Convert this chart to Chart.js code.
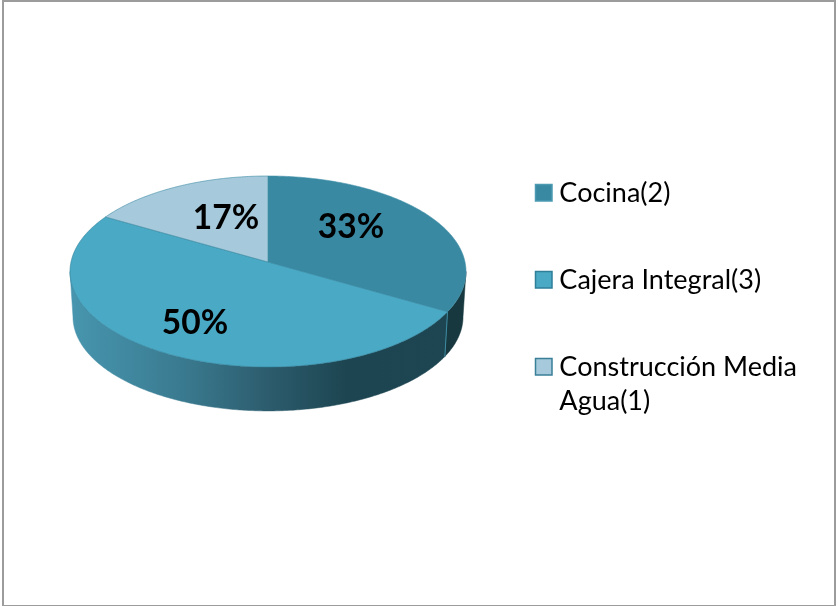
<!DOCTYPE html>
<html><head><meta charset="utf-8">
<style>
html,body{margin:0;padding:0;background:#fff;width:838px;height:606px;overflow:hidden}
#frame{position:absolute;left:2px;top:0;width:830px;height:603px;border:2px solid #9c9c9c;border-bottom-width:1px}
canvas{position:absolute;left:0;top:0}
</style>
<script src="https://cdn.jsdelivr.net/npm/chart.js@4"></script>
</head><body>
<div id="frame"></div>
<canvas id="c" width="838" height="606"></canvas>
<script>
const categories = [["Cocina(2)"], ["Cajera Integral(3)"], ["Construcción Media", "Agua(1)"]];
const values = [2, 3, 1];
const topColors = ["#3a89a2", "#4aa9c5", "#a6cadb"];
const edgeColors = ["#3f8fa8", "#2f7f99", "#3a89a2"];
const swatchEdges = ["#4b9ab2", "#2f7f99", "#3a7f98"];
const labelCenters = [[351, 227], [195, 323], [226, 218]];

// Perspective of the tilted disc
const cx = 268, cy = 262, A = 197, B = 94.55, K = 0.0995;
const DEPTH = 45.5, BOTTOM_SCALE = 0.985;
const VIS_FROM = 95.7 * Math.PI / 180, VIS_TO = 264.3 * Math.PI / 180;

function project(theta, r, bottom) {
  const u = Math.sin(theta) * r, v = -Math.cos(theta) * r, d = 1 - K * v;
  const s = bottom ? BOTTOM_SCALE : 1;
  return [cx + s * A * u / d, cy + (bottom ? DEPTH : 0) + s * B * v / d];
}
function tracePolar(ctx, a, b, bottom, first) {
  const n = Math.max(2, Math.ceil(Math.abs(b - a) / 0.01));
  for (let i = 0; i <= n; i++) {
    const t = a + (b - a) * i / n, p = project(t, 1, bottom);
    if (i === 0 && first) ctx.moveTo(p[0], p[1]); else ctx.lineTo(p[0], p[1]);
  }
}
const disc3d = {
  id: 'disc3d',
  beforeDatasetDraw(chart, args) {
    const ctx = chart.ctx, arcs = chart.getDatasetMeta(args.index).data;
    ctx.save();
    const grad = ctx.createLinearGradient(72, 0, 464, 0);
    grad.addColorStop(0, '#4795ae');
    grad.addColorStop(0.12, '#418aa2');
    grad.addColorStop(0.3, '#39788d');
    grad.addColorStop(0.5, '#2c5c6d');
    grad.addColorStop(0.7, '#1d4551');
    grad.addColorStop(1, '#1e4652');
    const sideFill = [ '#17383f', grad, grad ];
    // side walls
    arcs.forEach((arc, i) => {
      const a = Math.max(arc.startAngle + Math.PI / 2, VIS_FROM);
      const b = Math.min(arc.endAngle + Math.PI / 2, VIS_TO);
      if (b <= a) return;
      ctx.beginPath();
      tracePolar(ctx, a, b, false, true);
      tracePolar(ctx, b, a, true, false);
      ctx.closePath();
      ctx.fillStyle = sideFill[i];
      ctx.fill();
      ctx.strokeStyle = sideFill[i];
      ctx.lineWidth = 0.5;
      ctx.stroke();
      if (arc.startAngle + Math.PI / 2 > VIS_FROM) {
        const p = project(a, 1, false), q = project(a, 1, true);
        ctx.beginPath();
        ctx.moveTo(p[0], p[1]); ctx.lineTo(q[0], q[1]);
        ctx.strokeStyle = '#3a8aa1';
        ctx.lineWidth = 1;
        ctx.stroke();
      }
    });
    // top faces
    arcs.forEach((arc, i) => {
      const a = arc.startAngle + Math.PI / 2, b = arc.endAngle + Math.PI / 2;
      ctx.beginPath();
      ctx.moveTo(cx, cy);
      tracePolar(ctx, a, b, false, false);
      ctx.closePath();
      ctx.fillStyle = topColors[i];
      ctx.fill();
      ctx.strokeStyle = edgeColors[i];
      ctx.lineWidth = 0.6;
      ctx.stroke();
    });
    // percentage labels
    const total = values.reduce((s, x) => s + x, 0);
    ctx.fillStyle = '#000';
    ctx.font = 'bold 33.5px Lato';
    ctx.textAlign = 'center';
    ctx.textBaseline = 'middle';
    values.forEach((val, i) => {
      ctx.fillText(Math.round(val / total * 100) + '%', labelCenters[i][0], labelCenters[i][1]);
    });
    ctx.restore();
    return false;
  },
  afterDraw(chart) {
    // legend swatches sit closer to their text than the library's fixed gap
    const ctx = chart.ctx;
    ctx.save();
    chart.legend.legendHitBoxes.forEach((box, i) => {
      ctx.fillStyle = topColors[i];
      ctx.strokeStyle = swatchEdges[i];
      ctx.lineWidth = 1.5;
      ctx.beginPath();
      ctx.rect(535.5, Math.round(box.top + (27 - 17) / 2) - 0.5, 16.5, 16.5);
      ctx.fill();
      ctx.stroke();
    });
    ctx.restore();
  }
};
new Chart(document.getElementById('c'), {
  type: 'pie',
  data: { labels: categories, datasets: [{ data: values, backgroundColor: topColors, borderWidth: 0 }] },
  plugins: [disc3d],
  options: {
    responsive: false, animation: false,
    layout: { padding: { top: 120, right: 31 } },
    plugins: {
      tooltip: { enabled: false },
      legend: {
        position: 'right', align: 'start',
        labels: {
          boxWidth: 17, boxHeight: 17, padding: 60, color: '#000',
          font: { family: 'Lato', size: 27, lineHeight: 1.26 },
          generateLabels(chart) {
            return categories.map((text, i) => ({
              text: text.length > 1 ? text : text[0],
              fillStyle: 'rgba(0,0,0,0)', strokeStyle: 'rgba(0,0,0,0)', lineWidth: 0, index: i, hidden: false
            }));
          }
        }
      }
    }
  }
});
</script>
</body></html>
